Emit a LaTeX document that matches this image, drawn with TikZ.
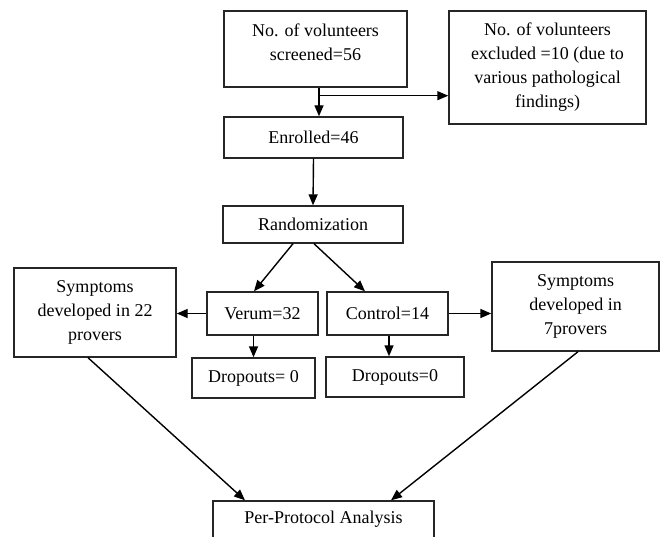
\documentclass[tikz,border=0pt]{standalone}
\usepackage{fontspec}
\setmainfont{Liberation Serif}
\usetikzlibrary{arrows.meta}
\tikzset{
  box/.style={draw=black!85, line width=1.4pt, inner sep=0pt, align=center,
    font=\fontsize{18}{24}\selectfont},
  txt/.style={inner sep=0pt, align=center, font=\fontsize{18}{24}\selectfont},
  arr/.style={draw=black, line width=1.4pt, -{Triangle[length=11pt,width=9pt]}},
}
\begin{document}
\begin{tikzpicture}[x=1pt,y=-1pt]
\clip (0,0) rectangle (660,537);
\fill[white] (0,0) rectangle (660,537);
\node[box, minimum width=183pt, minimum height=76pt] (scr) at (315.5,49) {};
\node[txt] (scrt) at (315.5,42) {No. of volunteers\\screened=56};
\node[box, minimum width=197pt, minimum height=113pt] (exc) at (547.5,67.5)
  {No. of volunteers\\excluded =10 (due to\\various pathological\\findings)};
\node[box, minimum width=179pt, minimum height=41pt] (enr) at (313.5,137.5) {Enrolled=46};
\node[box, minimum width=180pt, minimum height=37pt] (rand) at (313,224.5) {Randomization};
\node[box, minimum width=162pt, minimum height=89pt] (lsym) at (95,312.5)
  {Symptoms\\developed in 22\\provers};
\node[box, minimum width=111pt, minimum height=43pt] (verum) at (262.5,313.5) {Verum=32};
\node[box, minimum width=121pt, minimum height=43pt] (ctrl) at (387.5,313.5) {Control=14};
\node[box, minimum width=167pt, minimum height=89pt] (rsym) at (575.5,306.5)
  {Symptoms\\developed in\\7provers};
\node[box, minimum width=123pt, minimum height=40pt] (drop1) at (253.5,378) {Dropouts= 0};
\node[box, minimum width=138pt, minimum height=40pt] (drop2) at (395,377) {Dropouts=0};
\node[box, minimum width=221pt, minimum height=40pt] (ppa) at (323.5,521) {};
\node[txt] (ppat) at (323.5,519) {Per-Protocol Analysis};

\draw[arr] ([xshift=3.5pt]scr.south) -- ([xshift=5.5pt]enr.north);
\coordinate (br) at ([xshift=4.5pt,yshift=-8pt]scr.south);
\draw[arr] (br) -- (br -| exc.west);
\draw[arr] (enr.south) -- (rand.north);
\draw[arr] ([xshift=-20pt]rand.south) -- ([xshift=-8.5pt]verum.north);
\draw[arr] ([xshift=1pt]rand.south) -- ([xshift=-22.5pt]ctrl.north);
\draw[arr] (verum.west) -- (verum.west -| lsym.east);
\draw[arr] (ctrl.east) -- (ctrl.east -| rsym.west);
\draw[arr] (drop1.north |- verum.south) -- (drop1.north);
\draw[arr] ([xshift=1.5pt]ctrl.south) -- ([xshift=1.5pt]ctrl.south |- drop2.north);
\draw[arr] ([xshift=-7pt]lsym.south) -- ([xshift=-78.5pt]ppa.north);
\draw[arr] ([xshift=2.5pt]rsym.south) -- ([xshift=67.5pt]ppa.north);
\end{tikzpicture}
\end{document}
